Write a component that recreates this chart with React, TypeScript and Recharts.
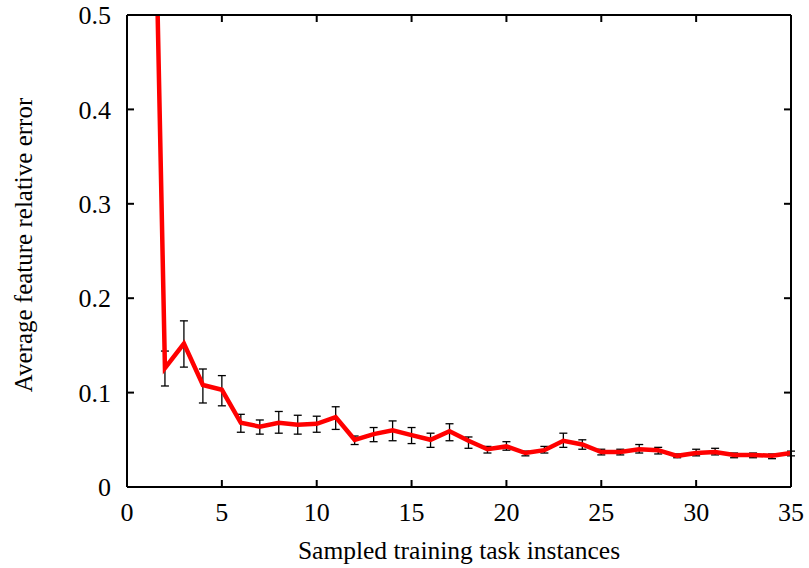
import React from "react";
import { LineChart, Line, XAxis, YAxis, ErrorBar, Label } from "recharts";

// sampled training task instances
const instances = [
  1, 2, 3, 4, 5, 6, 7, 8, 9, 10, 11, 12, 13, 14, 15, 16, 17, 18, 19, 20, 21, 22, 23, 24, 25, 26, 27, 28, 29, 30,
  31, 32, 33, 34, 35,
];
// average feature relative error (point 1 runs off the top of the plot)
const meanError = [
  1.1, 0.126, 0.152, 0.108, 0.103, 0.068, 0.064, 0.068, 0.066, 0.067, 0.074, 0.05, 0.056, 0.06, 0.055, 0.05, 0.059,
  0.049, 0.04, 0.043, 0.036, 0.039, 0.049, 0.045, 0.037, 0.037, 0.04, 0.039, 0.033, 0.036, 0.037, 0.034, 0.034,
  0.033, 0.036,
];
const upperError = [
  1.1, 0.144, 0.176, 0.125, 0.118, 0.077, 0.071, 0.08, 0.076, 0.075, 0.085, 0.054, 0.063, 0.07, 0.063, 0.057, 0.067,
  0.053, 0.043, 0.048, 0.038, 0.043, 0.057, 0.05, 0.04, 0.04, 0.045, 0.042, 0.035, 0.04, 0.041, 0.036, 0.036, 0.035,
  0.038,
];
const lowerError = [
  1.1, 0.107, 0.127, 0.089, 0.086, 0.058, 0.056, 0.057, 0.056, 0.058, 0.061, 0.045, 0.048, 0.049, 0.046, 0.042,
  0.049, 0.041, 0.036, 0.039, 0.033, 0.036, 0.042, 0.04, 0.034, 0.034, 0.036, 0.035, 0.031, 0.033, 0.034, 0.031,
  0.031, 0.03, 0.033,
];
const xTicks = [0, 5, 10, 15, 20, 25, 30, 35];
const yTicks = [0, 0.1, 0.2, 0.3, 0.4, 0.5];

const data = instances.map((n, i) => ({
  n,
  err: meanError[i],
  range: [meanError[i] - lowerError[i], upperError[i] - meanError[i]],
}));

const FONT = "'Liberation Serif', 'Times New Roman', serif";
const TICK_IN = -7; // negative tick size -> gnuplot style inward ticks

function YTitle({ viewBox }: any) {
  const cx = viewBox.x + 23;
  const cy = viewBox.y + viewBox.height / 2 - 6;
  return (
    <text
      x={cx}
      y={cy}
      transform={`rotate(-90 ${cx} ${cy})`}
      textAnchor="middle"
      dominantBaseline="central"
      style={{ fontFamily: FONT }}
      fontSize={25}
      fill="#000"
    >
      Average feature relative error
    </text>
  );
}

function XTitle({ viewBox }: any) {
  return (
    <text
      x={viewBox.x + viewBox.width / 2}
      y={viewBox.y + 63}
      textAnchor="middle"
      dominantBaseline="central"
      style={{ fontFamily: FONT }}
      fontSize={25.5}
      fill="#000"
    >
      Sampled training task instances
    </text>
  );
}

export default function App() {
  const axisLine = { stroke: "#000", strokeWidth: 2 };
  const tickLine = { stroke: "#000", strokeWidth: 2 };
  const tickFont = { fontSize: 26, fill: "#000" };
  const blank = () => "";
  return (
    <div style={{ position: "absolute", left: 0, top: 0, background: "#fff", fontFamily: FONT }}>
      <LineChart
        width={809}
        height={568}
        data={data}
        margin={{ top: 14, right: 17, bottom: 0, left: 0 }}
        style={{ fontFamily: FONT }}
      >
        <XAxis
          xAxisId="bottom"
          dataKey="n"
          type="number"
          domain={[0, 35]}
          ticks={xTicks}
          interval={0}
          height={81}
          axisLine={axisLine}
          tickLine={tickLine}
          tickSize={TICK_IN}
          tickMargin={23}
          tick={tickFont}
        >
          <Label content={<XTitle />} />
        </XAxis>
        <XAxis
          xAxisId="top"
          orientation="top"
          dataKey="n"
          type="number"
          domain={[0, 35]}
          ticks={xTicks}
          interval={0}
          height={1}
          axisLine={axisLine}
          tickLine={tickLine}
          tickSize={TICK_IN}
          tickMargin={0}
          tickFormatter={blank}
          tick={tickFont}
        />
        <YAxis
          yAxisId="left"
          type="number"
          domain={[0, 0.5]}
          allowDataOverflow
          ticks={yTicks}
          interval={0}
          width={127}
          axisLine={axisLine}
          tickLine={tickLine}
          tickSize={TICK_IN}
          tickMargin={23}
          tick={tickFont}
        >
          <Label content={<YTitle />} />
        </YAxis>
        <YAxis
          yAxisId="right"
          orientation="right"
          type="number"
          domain={[0, 0.5]}
          allowDataOverflow
          ticks={yTicks}
          interval={0}
          width={1}
          axisLine={axisLine}
          tickLine={tickLine}
          tickSize={TICK_IN}
          tickMargin={0}
          tickFormatter={blank}
          tick={tickFont}
        />
        {/* invisible series bound to the mirrored top/right axes */}
        <Line
          xAxisId="top"
          yAxisId="right"
          dataKey="err"
          stroke="none"
          dot={false}
          activeDot={false}
          legendType="none"
          isAnimationActive={false}
        />
        <Line
          xAxisId="bottom"
          yAxisId="left"
          dataKey="err"
          stroke="#ff0000"
          strokeWidth={4.5}
          dot={false}
          activeDot={false}
          isAnimationActive={false}
        >
          <ErrorBar dataKey="range" width={4} stroke="#000" strokeWidth={1.3} direction="y" />
        </Line>
      </LineChart>
    </div>
  );
}
